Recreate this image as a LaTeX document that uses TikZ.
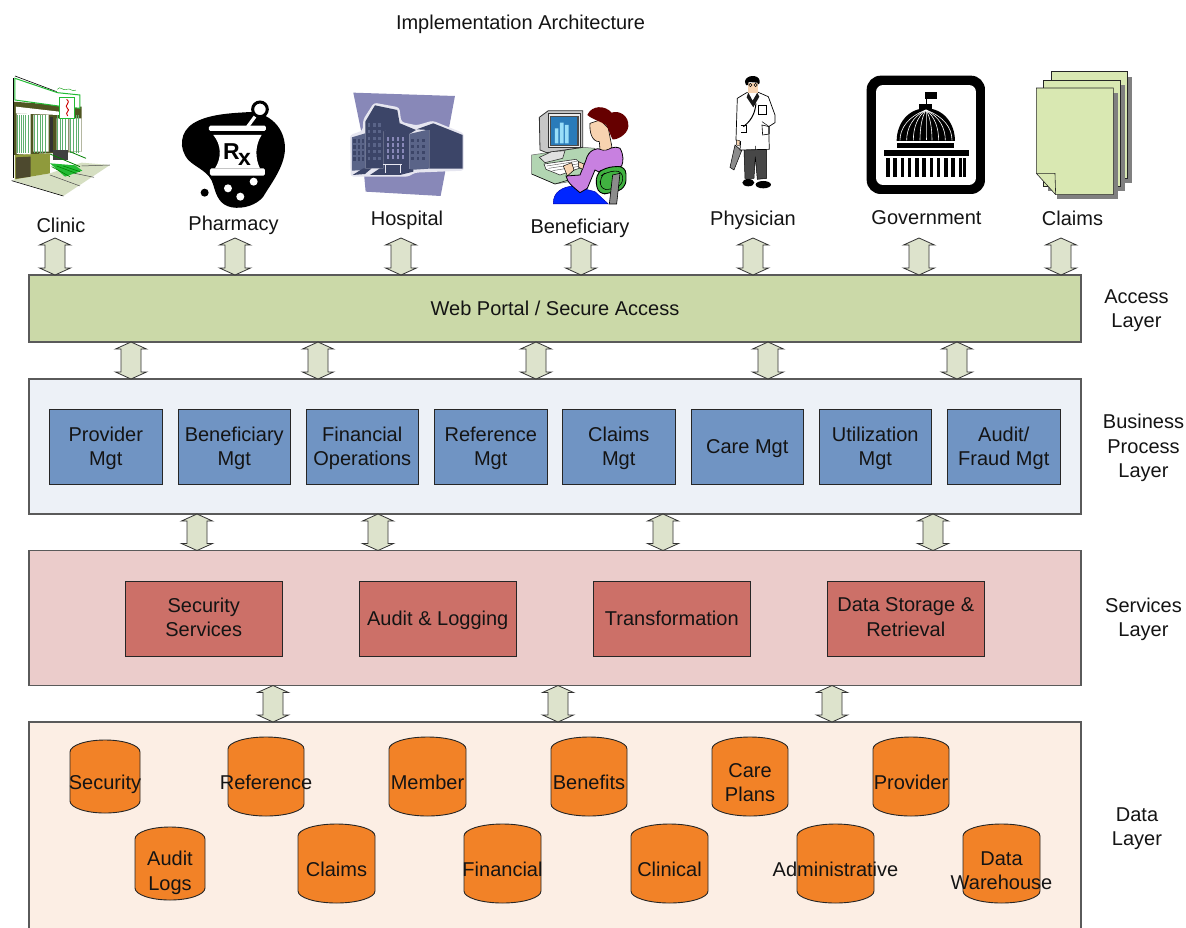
\documentclass[tikz,border=0pt]{standalone}
\usepackage{fontspec}
\setmainfont{Liberation Sans}
\usetikzlibrary{calc}
\definecolor{portalfill}{HTML}{CBD9A8}
\definecolor{bizfill}{HTML}{EDF1F7}
\definecolor{svcfill}{HTML}{EBCCCB}
\definecolor{datafill}{HTML}{FCEEE4}
\definecolor{bluebox}{HTML}{7094C3}
\definecolor{redbox}{HTML}{CC7068}
\definecolor{cylfill}{HTML}{F28227}
\definecolor{arrowfill}{HTML}{DDE3CC}
\definecolor{edgegray}{HTML}{5A5A5A}
\definecolor{pagefill}{HTML}{D9E8B2}
\definecolor{hospbg}{HTML}{8888B8}
\definecolor{hospglow}{HTML}{E6E6F0}
\definecolor{hospdark}{HTML}{3C4568}
\definecolor{hospmid}{HTML}{5A6488}
\definecolor{clgreen}{HTML}{22BB33}
\definecolor{clolive}{HTML}{8F9A3C}
\definecolor{clstripe}{HTML}{5FB070}
\definecolor{clground}{HTML}{D6DFC2}
\definecolor{woman}{HTML}{C880E0}
\definecolor{skin}{HTML}{F7D3B0}
\tikzset{
  textdrop/.style={execute at begin node={\rule{0pt}{\dimexpr 16.8pt+2\dimexpr #1pt\relax\relax}\ignorespaces}},
  every node/.style={font=\fontsize{20}{24.3}\selectfont,align=center,inner sep=0pt,outer sep=0pt,text=black!92,
     textdrop=2.2,execute at end node={\rule[-7.3pt]{0pt}{7.3pt}}},
  layerbox/.style={draw=edgegray,line width=1.15pt,anchor=north west},
  bizbox/.style={draw=black!85,line width=0.9pt,fill=bluebox,anchor=north west,minimum width=112.5pt,minimum height=75.5pt},
  svcbox/.style={draw=black!85,line width=0.9pt,fill=redbox,anchor=north west,minimum width=157.5pt,minimum height=75.5pt},
  dblarrow/.style={draw=black!80,line width=0.8pt,fill=arrowfill,line join=miter},
  cylshape/.style={draw=black!85,line width=0.9pt,fill=cylfill},
  zoomA/.style={shift={(0,60)},x=0.3333pt,y=-0.3333pt},
  zoomB/.style={shift={(480,60)},x=0.3333pt,y=-0.3333pt},
  zoomC/.style={shift={(850,60)},x=0.3333pt,y=-0.3333pt},
}
% #1 centre x, #2 upper anchor, #3 lower anchor
\newcommand{\blockarrow}[3]{%
  \draw[dblarrow] let \p1=(#2), \p2=(#3) in
    (#1pt,\y1) -- (#1pt+15.5pt,\y1-7pt) -- (#1pt+10pt,\y1-7pt) -- (#1pt+10pt,\y2+7pt)
    -- (#1pt+15.5pt,\y2+7pt) -- (#1pt,\y2) -- (#1pt-15.5pt,\y2+7pt) -- (#1pt-10pt,\y2+7pt)
    -- (#1pt-10pt,\y1-7pt) -- (#1pt-15.5pt,\y1-7pt) -- cycle;}
% [#1 extra drop], #2 name, #3 x1, #4 x2, #5 y1, #6 y2, #7 text
\newcommand{\cyl}[7][0]{%
  \pgfmathsetmacro{\cylrad}{(#4-#3)/2}
  \draw[cylshape] (#3,#5+12) arc[start angle=180,end angle=0,x radius=\cylrad pt,y radius=12pt]
     -- (#4,#6-12) arc[start angle=0,end angle=-180,x radius=\cylrad pt,y radius=12pt] -- cycle;
  \node (#2) at ({(#3+#4)/2},{(#5+#6)/2+6+#1}) {#7};}
\begin{document}
\begin{tikzpicture}[x=1pt,y=-1pt]
\path[use as bounding box,clip] (0,0) rectangle (1186,927);
\fill[white] (0,0) rectangle (1186,927);

\node (title) at (520.5,22.8) {Implementation Architecture};

%% ---------- Clinic icon
\begin{scope}[zoomA]
  \fill[clground] (35,360) -- (190,408) -- (330,315) -- (245,308) -- (150,340) -- cycle;
  \draw[black,line width=0.6pt] (35,362) -- (190,408);
  \draw[black!70,line width=0.5pt] (150,345) -- (240,378) (200,335) -- (282,352) (245,318) -- (330,315);
  \fill[clolive!55!black] (40,125) -- (245,140) -- (245,275) -- (40,285) -- cycle;
  \fill[white] (48,140) -- (178,155) -- (178,165) -- (48,160) -- cycle;
  \fill[white] (50,160) rectangle (92,282) (100,165) rectangle (146,275) (170,175) rectangle (205,275) (208,175) rectangle (244,275);
  \foreach \sx in {52,58,64,70,76,84,104,112,120,128,136,172,180,188,196,212,220,228,236}
     \draw[clstripe,line width=0.8pt] (\sx,165) -- (\sx,280);
  \fill[black!80] (150,170) rectangle (160,275);
  \fill[black!75] (160,270) rectangle (205,300);
  \fill[clolive] (45,285) -- (150,280) -- (150,340) -- (45,358) -- cycle;
  \fill[black!20!olive!50!black] (48,292) -- (92,290) -- (92,350) -- (48,356) -- cycle;
  \draw[black,line width=0.8pt] (40,55) -- (40,355);
  \fill[clgreen] (150,310) -- (225,316) -- (247,332) -- (195,350) -- cycle;
  \draw[green!50!black,line width=0.6pt] (155,320) -- (210,350) (170,318) -- (228,340) (190,318) -- (240,335);
  \draw[green!50!black,line width=0.8pt] (150,282) -- (240,320) (210,275) -- (258,295);
  \draw[black,line width=0.6pt] (45,48) -- (170,95);
  \draw[clgreen,fill=white,line width=1pt] (45,55) -- (172,98) -- (240,105) -- (240,145) -- (175,138) -- (45,120) -- cycle;
  \draw[green!60!black,line width=0.4pt] (172,88) .. controls (180,75) and (190,95) .. (200,88) .. controls (210,82) and (218,98) .. (228,90);
  \draw[clgreen,fill=white,line width=1pt] (178,112) rectangle (225,176);
  \draw[red!80!black,line width=0.9pt] (200,118) .. controls (215,130) and (190,135) .. (202,145) .. controls (214,152) and (192,156) .. (203,168);
\end{scope}
\node (clinic) at (61,225.5) {Clinic};

%% ---------- Pharmacy icon
\begin{scope}[zoomA]
  \fill[black] (735,157) .. controls (790,150) and (855,190) .. (855,265)
     .. controls (855,320) and (810,375) .. (790,410)
     .. controls (770,435) and (730,448) .. (695,442)
     .. controls (660,435) and (650,410) .. (640,375)
     .. controls (630,335) and (590,325) .. (565,300)
     .. controls (535,265) and (540,215) .. (580,190)
     .. controls (620,165) and (680,160) .. (735,157) -- cycle;
  \draw[black,line width=3pt,fill=white] (780,148) circle[radius=22];
  \draw[white,line width=3.2pt] (765,170) -- (743,200);
  \fill[white,rounded corners=1.5pt] (627,197) rectangle (798,213);
  \fill[white] (640,225) -- (785,225) .. controls (765,255) and (765,295) .. (780,325) -- (645,325) .. controls (665,295) and (665,255) .. (640,225) -- cycle;
  \fill[white,rounded corners=1.5pt] (630,325) rectangle (795,347);
  \fill[white] (684,385) circle[radius=12] (721,410) circle[radius=12] (761,365) circle[radius=12];
  \fill[black] (614,398) circle[radius=12];
  \node[font=\fontsize{23}{23}\selectfont\bfseries,text=black] (rx) at (711,279) {R\kern-1.5pt\raisebox{-6pt}{x}};
\end{scope}
\node (pharmacy) at (233.5,223.5) {Pharmacy};

%% ---------- Hospital icon
\begin{scope}[zoomA]
  \fill[hospbg] (1060,98) -- (1365,108) -- (1345,215) -- (1335,340) -- (1322,408) -- (1097,395) -- (1092,340) -- (1085,220) -- cycle;
  \fill[hospglow,rounded corners=3pt] (1050,225) -- (1088,212) -- (1090,178) -- (1122,128) -- (1198,142) -- (1204,186) -- (1250,196) -- (1298,182) -- (1392,220) -- (1392,332) -- (1245,338) -- (1225,350) -- (1052,350) -- cycle;
  \fill[hospdark] (1096,185) -- (1125,136) -- (1192,150) -- (1200,195) -- (1150,215) -- (1150,325) -- (1096,325) -- cycle;
  \fill[hospmid] (1056,232) -- (1096,220) -- (1096,330) -- (1056,332) -- cycle;
  \fill[hospdark] (1150,215) -- (1200,190) -- (1248,210) -- (1228,222) -- (1228,330) -- (1150,330) -- cycle;
  \fill[hospmid] (1228,222) -- (1288,208) -- (1288,326) -- (1228,330) -- cycle;
  \fill[hospdark] (1250,208) -- (1300,190) -- (1388,225) -- (1388,326) -- (1288,326) -- (1288,210) -- cycle;
  \foreach \wx in {1060,1073,1085}
    \foreach \wy in {238,256,274,292}
      \fill[hospdark] (\wx,\wy) rectangle +(8,10);
  \foreach \wx in {1160,1175,1190,1205}
    \foreach \wy in {232,250,268,286}
      \fill[hospbg] (\wx,\wy) rectangle +(8,10);
  \foreach \wx in {1234,1250,1266}
    \foreach \wy in {236,254,272,290}
      \fill[hospdark] (\wx,\wy) rectangle +(8,10);
  \foreach \wx in {1104,1120,1135}
    \foreach \wy in {190,210,230,250,270,290}
      \fill[hospmid] (\wx,\wy) rectangle +(7,10);
  \fill[hospdark] (1058,345) -- (1090,325) -- (1115,325) -- (1095,342) -- cycle;
  \fill[hospdark] (1110,345) -- (1140,325) -- (1240,328) -- (1240,335) -- (1200,345) -- cycle;
  \draw[white!80!hospbg,line width=0.8pt] (1150,312) -- (1205,312) (1155,312) -- (1155,338) (1200,312) -- (1200,338);
\end{scope}
\node (hospital) at (407,218.5) {Hospital};

%% ---------- Beneficiary icon
\begin{scope}[zoomB]
  \draw[black!60,fill=green!45!black!30!white,line width=0.5pt] (155,285) -- (310,262) -- (345,265) -- (300,360) -- (225,372) -- (155,342) -- cycle;
  \draw[black!80,fill=black!22,line width=0.8pt] (178,172) -- (205,152) -- (308,152) -- (308,262) -- (200,278) -- (180,270) -- cycle;
  \draw[black!80,fill=black!8,line width=0.6pt] (205,160) rectangle (302,262);
  \fill[black!70] (210,167) rectangle (296,258);
  \fill[cyan!65!blue!85!black] (214,172) rectangle (291,254);
  \fill[cyan!40] (225,205) rectangle (235,250) (240,188) rectangle (251,250) (255,195) rectangle (266,250);
  \draw[black!80,fill=black!12,line width=0.6pt] (178,292) -- (215,275) -- (255,272) -- (248,295) -- (195,308) -- cycle;
  \draw[black!80,fill=white,line width=0.6pt] (192,312) -- (288,298) -- (312,320) -- (240,345) -- (198,328) -- cycle;
  \draw[black!70,line width=0.4pt] (200,318) -- (290,304) (206,325) -- (298,311) (218,332) -- (304,318);
  \draw[black,line width=0.5pt] (155,342) -- (225,372) -- (300,350);
  % skirt
  \draw[blue!70!black,fill=blue!85!cyan,line width=0.5pt] (220,432) .. controls (218,395) and (250,380) .. (280,378) -- (345,395) -- (385,432) -- cycle;
  % torso
  \draw[black,fill=woman,line width=0.8pt] (318,300) .. controls (325,270) and (350,262) .. (365,268) .. controls (385,272) and (400,255) .. (420,265)
     .. controls (432,285) and (430,305) .. (425,318) -- (365,340) -- (345,330) -- (322,385)
     -- (300,398) .. controls (285,385) and (262,370) .. (258,348) -- (300,345) -- cycle;
  % chair
  \draw[black,fill=green!60!black!75!white,line width=0.9pt,rounded corners=8pt] (345,345) -- (375,322) -- (438,318) -- (438,385) -- (395,398) -- (355,405) -- cycle;
  \draw[black,line width=0.6pt,rounded corners=7pt] (358,352) -- (380,335) -- (428,332) -- (428,378) -- (365,393) -- cycle;
  \draw[black,fill=black!45,line width=0.6pt] (398,345) -- (420,340) -- (410,432) -- (388,432) -- cycle;
  % face & neck
  \draw[black,fill=skin,line width=0.6pt] (330,190) .. controls (328,215) and (335,245) .. (358,245) -- (360,268) .. controls (372,274) and (385,270) .. (396,262) -- (385,205) -- (360,180) -- cycle;
  % hair
  \fill[red!40!black] (322,165) .. controls (335,135) and (375,135) .. (395,158) .. controls (415,150) and (448,165) .. (445,200)
     .. controls (442,225) and (410,240) .. (398,238) .. controls (390,225) and (388,210) .. (378,195) .. controls (365,185) and (340,180) .. (322,165) -- cycle;
  % hands
  \draw[black,fill=skin,line width=0.5pt] (250,318) -- (275,308) -- (282,330) -- (262,348) -- cycle;
  \draw[black,fill=skin,line width=0.5pt] (295,305) -- (312,312) -- (308,328) -- (296,322) -- cycle;
\end{scope}
\node (beneficiary) at (580,226.8) {Beneficiary};

%% ---------- Physician icon
\begin{scope}[zoomB]
  \draw[black,fill=black!45,line width=0.5pt] (765,255) -- (785,272) -- (762,330) -- (750,322) -- cycle;
  \draw[black,fill=black!72,line width=0.5pt] (792,268) -- (860,268) -- (860,355) -- (832,358) -- (826,290) -- (822,355) -- (795,355) -- cycle;
  \fill[black] (805,368) ellipse[x radius=18,y radius=11];
  \fill[black] (850,374) ellipse[x radius=23,y radius=11];
  \draw[black,fill=white,line width=0.7pt] (800,98) -- (772,115) -- (768,240) -- (782,245) -- (780,270) -- (868,268) -- (866,200) -- (885,188) -- (885,165) -- (865,110) -- (835,97) -- cycle;
  \draw[black,line width=0.5pt] (846,185) -- (865,198) (826,270) -- (826,258);
  \draw[black,line width=0.6pt] (836,135) rectangle (860,162);
  \draw[black,line width=0.6pt] (782,195) -- (800,195) -- (800,218) -- (782,218);
  \draw[black,line width=0.6pt] (846,195) -- (868,200) -- (868,222) -- (848,225) -- cycle;
  \fill[black!90] (805,98) -- (818,122) -- (832,98) -- (838,110) -- (820,142) -- (800,112) -- cycle;
  \draw[black,line width=1pt] (828,130) .. controls (825,165) and (810,185) .. (790,200);
  \fill[skin] (805,68) rectangle (834,100);
  \fill[black] (795,64) .. controls (798,44) and (836,42) .. (839,62) .. controls (840,74) and (834,76) .. (832,68) -- (806,66) .. controls (805,80) and (796,80) .. (795,64) -- cycle;
  \draw[black,line width=0.5pt] (811,75) circle[radius=5] (827,75) circle[radius=5];
  \draw[black,fill=skin,line width=0.3pt] (770,240) -- (780,242) -- (778,258) -- (770,255) -- cycle;
\end{scope}
\node (physician) at (753,218.5) {Physician};

%% ---------- Government icon
\begin{scope}[zoomC]
  \fill[black,rounded corners=14pt] (50,47) rectangle (405,402);
  \fill[white,rounded corners=7pt] (78,75) rectangle (378,375);
  \draw[black,line width=1pt] (228,97) -- (228,135);
  \fill[black] (226,97) rectangle (262,118);
  \fill[black] (207,133) rectangle (247,148);
  \fill[black] (140,243) .. controls (140,190) and (175,145) .. (228,145) .. controls (280,145) and (315,190) .. (315,243) -- cycle;
  \foreach \rx in {150,170,190,210,228,246,266,286,306}
    \draw[white,line width=0.6pt] (228,150) .. controls ({228+(\rx-228)*0.7},170) and (\rx,205) .. (\rx,241);
  \fill[black] (140,248) rectangle (312,264);
  \fill[black] (102,270) rectangle (357,288);
  \foreach \cx in {108,129.8,151.6,173.4,195.2,217,238.8,260.6,282.4,304.2,326,338}
    \fill[black] (\cx,293) rectangle +(10.5,59);
\end{scope}
\node (government) at (926.5,217.8) {Government};

%% ---------- Claims icon
\begin{scope}[zoomC]
  \fill[black!50] (618,50) rectangle (847,370);
  \draw[black!85,fill=pagefill,line width=0.6pt] (604,35) rectangle (832,355);
  \fill[black!50] (595,75) rectangle (826,394);
  \draw[black!85,fill=pagefill,line width=0.6pt] (580,60) rectangle (811,380);
  \fill[black!50] (620,100) rectangle (805,417);
  \draw[black!85,fill=pagefill,line width=0.6pt] (559,84) -- (790,84) -- (790,404) -- (617,404) -- (559,340) -- cycle;
  \draw[black!85,line width=0.6pt] (559,340) -- (615,340) -- (617,404);
\end{scope}
\node (claimsicon) at (1072.5,218.5) {Claims};

%% ---------- Layers
\node[layerbox,fill=portalfill,minimum width=1052pt,minimum height=67pt] (portal) at (29,275) {};
\node (portaltext) at (portal.center) {Web Portal / Secure Access};
\node[layerbox,fill=bizfill,minimum width=1052pt,minimum height=135pt] (biz) at (29,379) {};
\node[layerbox,fill=svcfill,minimum width=1052pt,minimum height=135pt] (svc) at (29,550.5) {};
\node[layerbox,fill=datafill,minimum width=1052pt,minimum height=225pt] (data) at (29,722) {};

%% ---------- Business boxes
\node[bizbox] (b1) at (49.5,409) {};
\node (b1t) at ($(b1.center)+(0,3)$) {Provider\\Mgt};
\node[bizbox] (b2) at (178,409) {};
\node (b2t) at ($(b2.center)+(0,3)$) {Beneficiary\\Mgt};
\node[bizbox] (b3) at (306,409) {};
\node (b3t) at ($(b3.center)+(0,3)$) {Financial\\Operations};
\node[bizbox] (b4) at (434.5,409) {};
\node (b4t) at ($(b4.center)+(0,3)$) {Reference\\Mgt};
\node[bizbox] (b5) at (562.5,409) {};
\node (b5t) at ($(b5.center)+(0,3)$) {Claims\\Mgt};
\node[bizbox] (b6) at (691,409) {Care Mgt};
\node[bizbox] (b7) at (819,409) {};
\node (b7t) at ($(b7.center)+(0,3)$) {Utilization\\Mgt};
\node[bizbox] (b8) at (947.5,409) {};
\node (b8t) at ($(b8.center)+(0,3)$) {Audit/\\Fraud Mgt};

%% ---------- Service boxes
\node[svcbox] (s1) at (125,581) {};
\node (s1t) at ($(s1.center)+(0,2)$) {Security\\Services};
\node[svcbox,textdrop=1] (s2) at (359,581) {Audit \& Logging};
\node[svcbox,textdrop=1] (s3) at (593,581) {Transformation};
\node[svcbox] (s4) at (827,581) {};
\node (s4t) at ($(s4.center)+(0,2)$) {Data Storage \&\\Retrieval};

%% ---------- Data stores
\cyl{c1}{70}{140}{740}{813}{Security}
\cyl{c2}{228}{304}{737}{816}{Reference}
\cyl{c3}{389}{466}{737}{816}{Member}
\cyl{c4}{551}{627}{737}{816}{Benefits}
\cyl[4]{c5}{712}{788}{737}{816}{Care\\Plans}
\cyl{c6}{873}{949}{737}{816}{Provider}
\cyl[5]{c7}{135}{205}{827}{900}{Audit\\Logs}
\cyl{c8}{298}{375}{824}{903}{Claims}
\cyl{c9}{464}{541}{824}{903}{Financial}
\cyl{c10}{631}{708}{824}{903}{Clinical}
\cyl{c11}{797}{874}{824}{903}{Administrative}
\cyl[5]{c12}{963}{1040}{824}{903}{Data\\Warehouse}

%% ---------- Layer labels
\node (lacc) at (1136.5,312.3) {Access\\Layer};
\node (lbiz) at (1143.5,449.5) {Business\\Process\\Layer};
\node (lsvc) at (1143.5,620.8) {Services\\Layer};
\node (ldat) at (1137,830.3) {Data\\Layer};

%% ---------- Block arrows
\coordinate (topa) at (0,238);
\foreach \ax in {55,235,401,581,753,919,1061} { \blockarrow{\ax}{topa}{portal.north} }
\foreach \ax in {131,318,536,768,957} { \blockarrow{\ax}{portal.south}{biz.north} }
\foreach \ax in {197,378,663,933} { \blockarrow{\ax}{biz.south}{svc.north} }
\foreach \ax in {273,558,832} { \blockarrow{\ax}{svc.south}{data.north} }
\end{tikzpicture}
\end{document}
